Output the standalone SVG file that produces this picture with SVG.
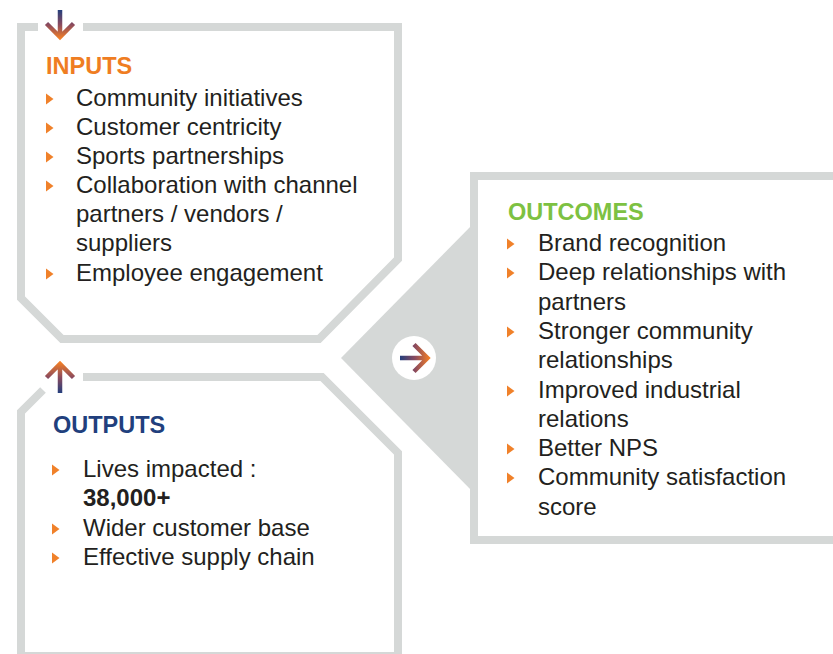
<svg xmlns="http://www.w3.org/2000/svg" width="833" height="654" viewBox="0 0 833 654">
<style>
.frame{fill:none;stroke:#d5d8d7;stroke-width:8;stroke-linejoin:miter}
.title{font-family:"Liberation Sans",Arial,sans-serif;font-weight:bold;font-size:23.5px}
.item{font-family:"Liberation Sans",Arial,sans-serif;font-size:24px;fill:#231f20}
.bold{font-weight:bold}
.bullet{fill:#f0812a}
.arr{fill:none;stroke-width:4.5;stroke-linejoin:miter}
</style>
<defs>
<linearGradient id="gDown" gradientUnits="userSpaceOnUse" x1="0" y1="10" x2="0" y2="39">
<stop offset="0" stop-color="#243f7d"/><stop offset="0.5" stop-color="#8a4a5e"/><stop offset="1" stop-color="#f58025"/>
</linearGradient>
<linearGradient id="gUp" gradientUnits="userSpaceOnUse" x1="0" y1="362" x2="0" y2="393">
<stop offset="0" stop-color="#f58025"/><stop offset="0.5" stop-color="#8a4a5e"/><stop offset="1" stop-color="#243f7d"/>
</linearGradient>
<linearGradient id="gRight" gradientUnits="userSpaceOnUse" x1="400" y1="0" x2="430" y2="0">
<stop offset="0" stop-color="#243f7d"/><stop offset="0.5" stop-color="#8a4a5e"/><stop offset="1" stop-color="#f58025"/>
</linearGradient>
<path id="tri" d="M0 -5.5 L7.5 0 L0 5.5 Z"/>
</defs>
<rect width="833" height="654" fill="#ffffff"/>

<g id="connectors">
<polygon points="474,223 341,358 474,493" fill="#d5d8d7"/>
<circle cx="414" cy="358" r="22" fill="#ffffff"/>
<path class="arr" stroke="url(#gRight)" d="M400 358 L428 358 M414 344.5 L427.5 358 L414 371.5"/>
<path class="arr" stroke="url(#gDown)" d="M60 10 L60 37 M46.5 23.5 L60 37 L73.5 23.5"/>
<path class="arr" stroke="url(#gUp)" d="M60 393 L60 364 M46.5 377.5 L60 364 L73.5 377.5"/>
</g>

<g id="inputs">
<path class="frame" d="M83 27 L398 27 L398 259 L319 339 L62 339 L21 298 L21 27 L38 27"/>
<text class="title" x="46" y="74" fill="#ef7d22">INPUTS</text>
<use href="#tri" x="46" y="99" class="bullet"/>
<use href="#tri" x="46" y="128" class="bullet"/>
<use href="#tri" x="46" y="157" class="bullet"/>
<use href="#tri" x="46" y="186" class="bullet"/>
<use href="#tri" x="46" y="274" class="bullet"/>
<text class="item" x="76" y="106">Community initiatives</text>
<text class="item" x="76" y="135">Customer centricity</text>
<text class="item" x="76" y="164">Sports partnerships</text>
<text class="item" x="76" y="193">Collaboration with channel</text>
<text class="item" x="76" y="222">partners / vendors /</text>
<text class="item" x="76" y="251">suppliers</text>
<text class="item" x="76" y="281">Employee engagement</text>
</g>

<g id="outputs">
<path class="frame" d="M83 377 L322 377 L398 453 L398 656 L21 656 L21 412 L43 390"/>
<text class="title" x="53" y="433" fill="#213f7d">OUTPUTS</text>
<use href="#tri" x="52" y="470" class="bullet"/>
<use href="#tri" x="52" y="529" class="bullet"/>
<use href="#tri" x="52" y="558" class="bullet"/>
<text class="item" x="83" y="477">Lives impacted :</text>
<text class="item bold" x="83" y="506">38,000+</text>
<text class="item" x="83" y="536">Wider customer base</text>
<text class="item" x="83" y="565">Effective supply chain</text>
</g>

<g id="outcomes">
<path class="frame" d="M840 176 L474 176 L474 540 L840 540"/>
<text class="title" x="508" y="220" fill="#7dc142">OUTCOMES</text>
<use href="#tri" x="507" y="244" class="bullet"/>
<use href="#tri" x="507" y="273" class="bullet"/>
<use href="#tri" x="507" y="332" class="bullet"/>
<use href="#tri" x="507" y="391" class="bullet"/>
<use href="#tri" x="507" y="449" class="bullet"/>
<use href="#tri" x="507" y="478" class="bullet"/>
<text class="item" x="538" y="251">Brand recognition</text>
<text class="item" x="538" y="280">Deep relationships with</text>
<text class="item" x="538" y="310">partners</text>
<text class="item" x="538" y="339">Stronger community</text>
<text class="item" x="538" y="368">relationships</text>
<text class="item" x="538" y="398">Improved industrial</text>
<text class="item" x="538" y="427">relations</text>
<text class="item" x="538" y="456">Better NPS</text>
<text class="item" x="538" y="485">Community satisfaction</text>
<text class="item" x="538" y="515">score</text>
</g>
</svg>
